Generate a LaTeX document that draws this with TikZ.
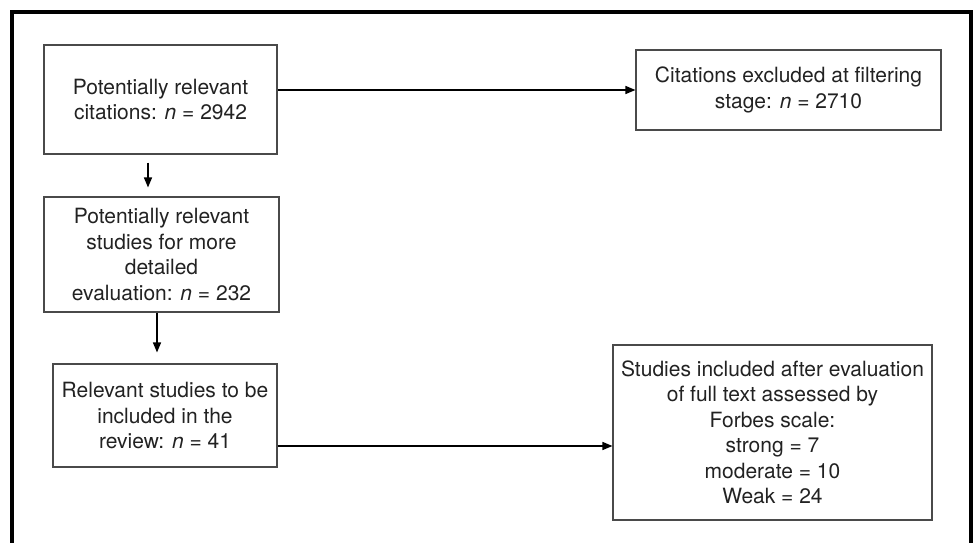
\documentclass[tikz,border=0pt]{standalone}
\usepackage{fontspec}
\setmainfont{TeX Gyre Heros}
\usepackage{xcolor}
\usetikzlibrary{arrows.meta, positioning, calc}
\definecolor{flowedge}{HTML}{4A4A4A}
\definecolor{flowtext}{HTML}{222222}
\definecolor{flowframe}{HTML}{000000}

\begin{document}
\begin{tikzpicture}[x=1pt,y=-1pt,
    font=\fontsize{21}{25.5}\selectfont,
    stagebox/.style={draw=flowedge,line width=1.1pt,text=flowtext,inner sep=0pt,align=center},
    flowarrow/.style={-{Triangle[length=10pt,width=8pt]},line width=1.4pt,black}]
        \useasboundingbox (0,0) rectangle (975,543);
        \draw[flowframe,line width=3.2pt] (12,543) -- (12,12) -- (971,12) -- (971,543);
        \node[stagebox,minimum width=233pt,minimum height=109pt] (cites) at (160.5,99.5) {Potentially relevant\\citations: \textit{n} = 2942};
        \node[stagebox,minimum width=235pt,minimum height=115pt] (detail) at (161.5,254.5) {Potentially relevant\\studies for more\\detailed\\evaluation: \textit{n} = 232};
        \node[stagebox,minimum width=224pt,minimum height=103pt] (review) at (165,415.5) {Relevant studies to be\\included in the\\review: \textit{n} = 41};
        \node[stagebox,minimum width=305pt,minimum height=80pt] (excl) at (788.5,90) {Citations excluded at filtering\\stage: \textit{n} = 2710};
        \node[stagebox,minimum width=319pt,minimum height=175pt] (forbes) at (772.5,432.5) {Studies included after evaluation\\of full text assessed by\\Forbes scale:\\strong = 7\\moderate = 10\\Weak = 24};
        \draw[flowarrow] (excl.west -| cites.east) -- (excl.west);
        \draw[flowarrow,shorten <=8pt,shorten >=9pt] ([xshift=-12.5pt]cites.south) -- ([xshift=-13.5pt]detail.north);
        \draw[flowarrow,shorten >=11pt] ([xshift=-4.5pt]detail.south) -- ([xshift=-8pt]review.north);
        \draw[flowarrow] ([yshift=-13.5pt]forbes.west -| review.east) -- ([yshift=-13.5pt]forbes.west);
      \end{tikzpicture}
\end{document}
